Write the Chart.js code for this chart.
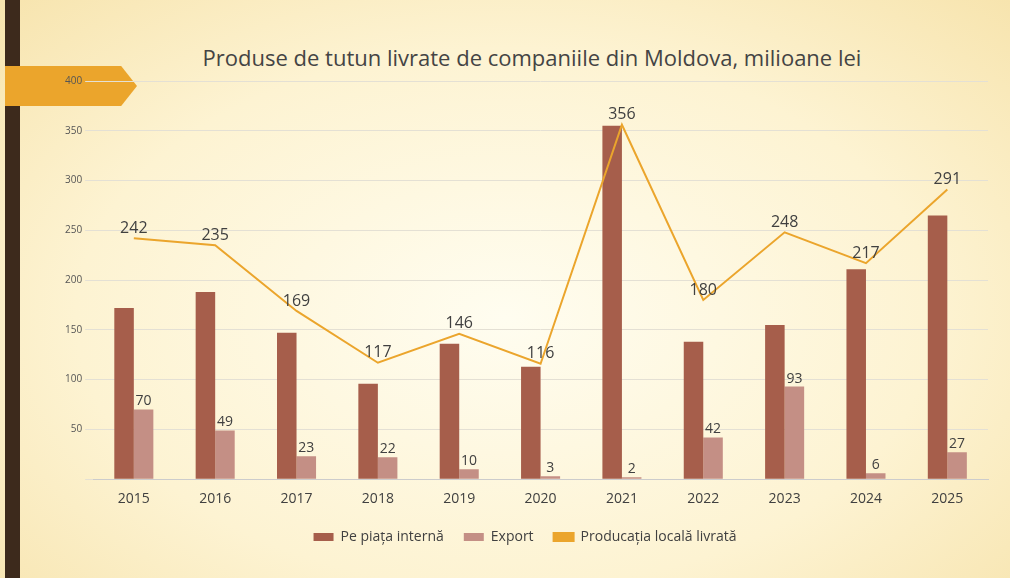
<!DOCTYPE html>
<html><head><meta charset="utf-8">
<script src="https://cdn.jsdelivr.net/npm/chart.js@4/dist/chart.umd.min.js"></script>
<style>
html,body{margin:0;padding:0;width:1024px;height:582px;overflow:hidden;background:#fff;}
#bg{position:absolute;left:0;top:0;width:1010px;height:578px;background:radial-gradient(ellipse at 50% 55%,#fffdf0 0%,#fdf3d2 60%,#f7e4ae 100%);}
#bar{position:absolute;left:5px;top:0;width:15px;height:578px;background:#3d2a1c;}
#arrow{position:absolute;left:5px;top:66px;width:132px;height:40px;background:#eba52c;clip-path:polygon(0 0,88% 0,100% 50%,88% 100%,0 100%);}
#title{position:absolute;left:0;width:1064px;top:42px;text-align:center;font:22px "Open Sans",sans-serif;color:#444;}
#wrap{position:absolute;left:62px;top:72px;width:936px;height:482px;}
</style></head><body>
<div id="bg"></div><div id="bar"></div><div id="arrow"></div>
<div id="title">Produse de tutun livrate de companiile din Moldova, milioane lei</div>
<div id="wrap"><canvas id="c"></canvas></div>
<script>
const years=["2015","2016","2017","2018","2019","2020","2021","2022","2023","2024","2025"];
const intern=[172,188,147,96,136,113,355,138,155,211,265];
const exportV=[70,49,23,22,10,3,2,42,93,6,27];
const productie=[242,235,169,117,146,116,356,180,248,217,291];
const labels={id:'lbl',afterDatasetsDraw(ch){const c=ch.ctx;c.save();c.textAlign='center';c.fillStyle='#404040';
 const m1=ch.getDatasetMeta(1);m1.data.forEach((e,i)=>{c.font='14px "Open Sans",sans-serif';c.fillText(exportV[i],e.x,e.y-8);});
 const m2=ch.getDatasetMeta(2);m2.data.forEach((e,i)=>{c.font='16px "Open Sans",sans-serif';c.fillText(productie[i],e.x,e.y-10);});
 c.restore();}};
new Chart(document.getElementById('c'),{data:{labels:years,datasets:[
 {type:'bar',label:'Pe piața internă',data:intern,backgroundColor:'#a65e4b',barPercentage:1,categoryPercentage:0.48,order:2},
 {type:'bar',label:'Export',data:exportV,backgroundColor:'#c48f85',barPercentage:1,categoryPercentage:0.48,order:2},
 {type:'line',label:'Producația locală livrată',data:productie,borderColor:'#eba52c',backgroundColor:'#eba52c',borderWidth:2,pointRadius:0,tension:0,order:1}]},
 options:{responsive:true,maintainAspectRatio:false,animation:false,
 layout:{padding:{left:0,right:10,top:8,bottom:0}},
 plugins:{legend:{position:'bottom',labels:{font:{size:14,family:'Open Sans'},color:'#404040',boxWidth:20,boxHeight:8,padding:20,sort:(a,b)=>a.datasetIndex-b.datasetIndex}},tooltip:{enabled:false}},
 scales:{x:{grid:{display:false},border:{color:'#ccc'},ticks:{font:{size:14,family:'Open Sans'},color:'#404040'}},
 y:{min:0,max:400,ticks:{stepSize:50,font:{size:10,family:'Open Sans'},color:'#555',callback:v=>v===0?'':v},grid:{color:'#e4e0d4'},border:{display:false}}}},
 plugins:[labels]});
</script></body></html>
